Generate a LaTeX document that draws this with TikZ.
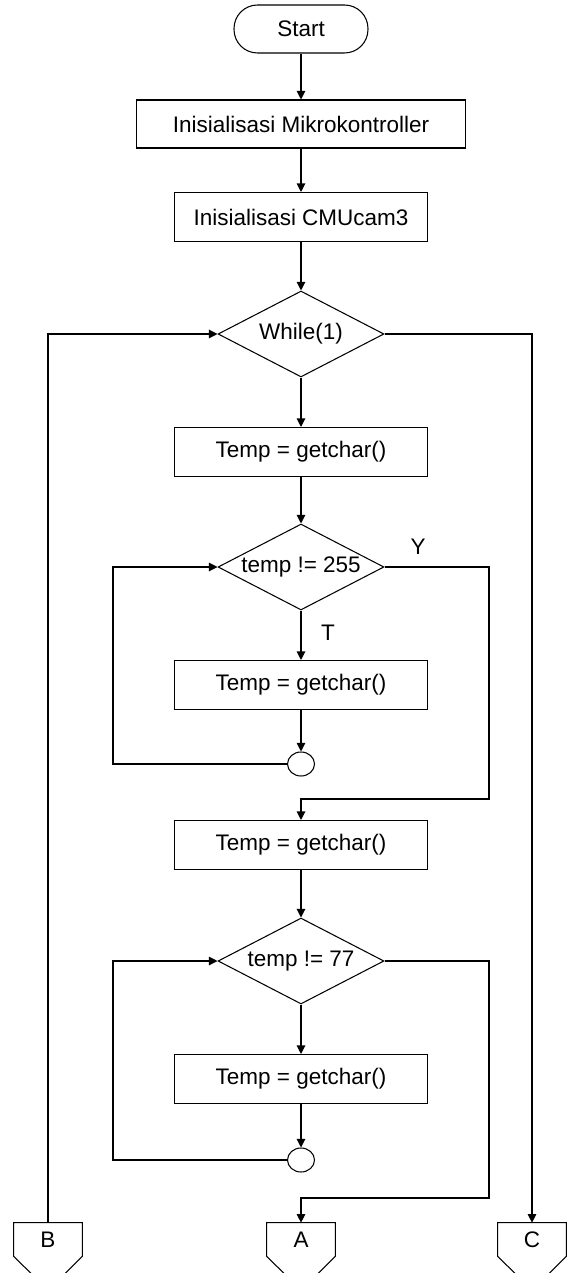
\documentclass[tikz,border=0pt]{standalone}
\usepackage{fontspec}
\setmainfont{Liberation Sans}
\usetikzlibrary{shapes.geometric,arrows.meta,positioning}

\tikzset{
  garis/.style={line width=0.6pt},
  panah/.style={garis,-{Triangle[length=0.17cm,width=0.17cm]}},
  terminal/.style={draw,garis,rectangle,rounded corners=0.47cm,minimum width=2.68cm,minimum height=0.96cm},
  proses/.style={draw,garis,rectangle,minimum width=5.06cm,minimum height=0.98cm},
  keputusan/.style={draw,garis,diamond,aspect=1.93,inner sep=0pt,minimum width=3.32cm,minimum height=1.72cm},
  titik/.style={draw,garis,ellipse,inner sep=0pt,minimum width=0.54cm,minimum height=0.48cm},
  konektor/.style={inner sep=0pt,minimum width=1.36cm,minimum height=0.66cm},
  every node/.style={font=\fontsize{12.8pt}{15pt}\selectfont}
}

\begin{document}
\begin{tikzpicture}[x=0.02cm,y=-0.02cm]
\clip (0,0) rectangle (571,1273);
\fill[white] (0,0) rectangle (571,1273);

% langkah utama
\node[terminal] (start) at (301,29) {Start};
\node[proses,minimum width=6.58cm,minimum height=0.96cm] (init1) at (301,124) {Inisialisasi Mikrokontroller};
\node[proses] (init2) at (301,217) {Inisialisasi CMUcam3};
\node[keputusan] (while) at (301,334) {While(1)};
\node[proses] (get1) at (301,452) {Temp = getchar()};
\node[keputusan] (cek1) at (301,567) {temp != 255};
\node[proses] (get2) at (301,685) {Temp = getchar()};
\node[titik] (join1) at (301,764) {};
\node[proses] (get3) at (301,845) {Temp = getchar()};
\node[keputusan] (cek2) at (301,961) {temp != 77};
\node[proses] (get4) at (301,1079) {Temp = getchar()};
\node[titik] (join2) at (301,1160) {};

% konektor halaman
\node[konektor] (conB) at (48,1239.5) {B};
\node[konektor] (conA) at (301,1239.5) {A};
\node[konektor] (conC) at (532,1239.5) {C};
\foreach \k in {conA,conB,conC}
  \draw[garis] (\k.north west) -- (\k.north east) -- (\k.south east) -- ++(-34,34) -- (\k.south west) -- cycle;

\node (ya) at (418,547) {Y};
\node (tidak) at (328,633) {T};

\coordinate (xL) at (113,0);
\coordinate (xR) at (489,0);
\coordinate (belok1) at (301,799);
\coordinate (belok2) at (301,1198);

% alur
\draw[panah] (start) -- (init1);
\draw[panah] (init1) -- (init2);
\draw[panah] (init2) -- (while);
\draw[panah] (while) -- (get1);
\draw[panah] (get1) -- (cek1);
\draw[panah] (cek1) -- (get2);
\draw[panah] (get2) -- (join1);
\draw[panah] (join1.west) -- (join1.west -| xL) |- (cek1.west);
\draw[panah] (cek1.east) -| (belok1 -| xR) -- (belok1) -- (get3.north);
\draw[panah] (get3) -- (cek2);
\draw[panah] (cek2) -- (get4);
\draw[panah] (get4) -- (join2);
\draw[panah] (join2.west) -- (join2.west -| xL) |- (cek2.west);
\draw[panah] (cek2.east) -| (belok2 -| xR) -- (belok2) -- (conA.north);
\draw[panah] (conB.north) |- (while.west);
\draw[panah] (while.east) -| (conC.north);
\end{tikzpicture}
\end{document}
